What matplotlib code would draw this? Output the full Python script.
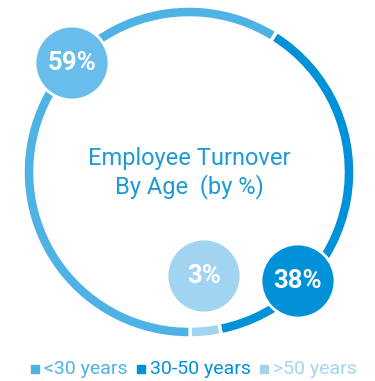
import matplotlib.pyplot as plt
from matplotlib.patches import Circle

# data
labels = ['30-50 years', '>50 years', '<30 years']
values = [38, 3, 59]
colors = ['#0091d9', '#a0d4f0', '#4fb2e5']
bubble_colors = ['#0091d9', '#a0d4f0', '#68bdea']
legend_labels = ['<30 years', '30-50 years', '>50 years']
legend_colors = ['#4fb2e5', '#0091d9', '#a3d5f1']

W, H = 375, 381
fig = plt.figure(figsize=(W / 100, H / 100), dpi=100)
ax = fig.add_axes([0, 0, 1, 1])

cx, cy = 189, H - 172
R = 166
ax.pie(values, colors=colors, startangle=58, counterclock=False,
       center=(cx, cy), radius=R,
       wedgeprops=dict(width=12, edgecolor='white', linewidth=2.5))
ax.set_xlim(0, W)
ax.set_ylim(0, H)
ax.set_aspect('equal')
ax.axis('off')

# value bubbles (38%, 3%, 59%)
bubble_pos = [(298, H - 281), (204, H - 276), (72, H - 63)]
for (bx, by), v, c in zip(bubble_pos, values, bubble_colors):
    ax.add_patch(Circle((bx, by), 37, facecolor=c, edgecolor='white', lw=2, zorder=3))
    ax.text(bx, by, f'{v}%', color='white', fontsize=18.5, fontweight='bold',
            ha='center', va='center', zorder=4, family='Roboto')

ax.text(cx, H - 158, 'Employee Turnover', color='#1f9ad6', fontsize=17,
        ha='center', va='center', family='Roboto')
ax.text(cx, H - 187, 'By Age  (by %)', color='#1f9ad6', fontsize=17,
        ha='center', va='center', family='Roboto')

# legend
x = 32
for lab, c in zip(legend_labels, legend_colors):
    ax.scatter([x + 3], [H - 369], marker='s', s=30, color=c, zorder=3)
    t = ax.text(x + 12, H - 369, lab, color=c, fontsize=14, ha='left', va='center',
                family='Roboto')
    fig.canvas.draw()
    bb = t.get_window_extent()
    x = bb.x1 + 10

fig.savefig('out.png', dpi=100)
